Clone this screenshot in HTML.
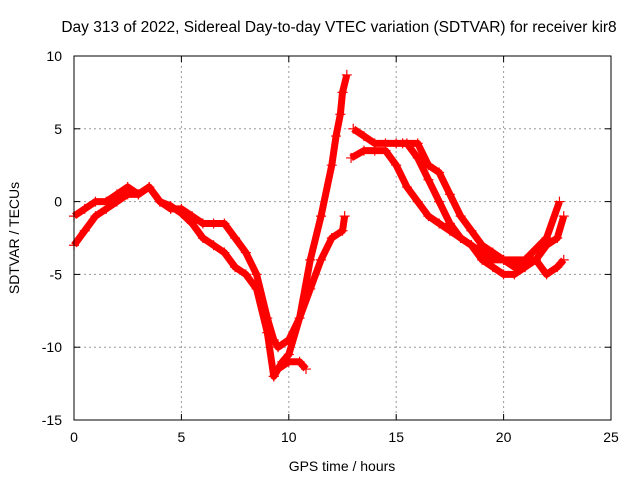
<!DOCTYPE html>
<html><head><meta charset="utf-8"><style>
body{margin:0;background:#fff}
svg text{font-family:"Liberation Sans",sans-serif;font-size:14px;fill:#000}
</style></head><body>
<svg width="640" height="480" id="c">
<rect x="0" y="0" width="640" height="480" fill="#fff"/>
<text x="339" y="32" text-anchor="middle" style="font-size:15.5px">Day 313 of 2022, Sidereal Day-to-day VTEC variation (SDTVAR) for receiver kir8</text>
<text x="342" y="471" text-anchor="middle">GPS time / hours</text>
<text x="19" y="238" text-anchor="middle" transform="rotate(-90 19 238)">SDTVAR / TECUs</text>
<g id="grid"></g><g id="data"></g>
<rect x="74" y="56" width="537" height="364" fill="none" stroke="#000"/>
</svg>
<script>
const xTicks=[0,5,10,15,20,25];
const yTicks=[10,5,0,-5,-10,-15];
const trackAx=[0,0.5,1,1.5,2,2.5,3,3.5,4,4.5,5,5.5,6,6.5,7,7.5,8,8.5,9,9.3,9.5,10,10.5,11,11.5,12,12.5,12.6];
const trackAy=[-1,-0.5,0,0,0.5,1,0.5,1,0,-0.5,-0.5,-1,-1.5,-1.5,-1.5,-2.5,-3.5,-5,-8,-9.5,-10,-9.5,-8,-6,-4,-2.5,-2,-1];
const trackBx=[9.3,9.7,10,10.5,11,11.5,12,12.2,12.4,12.5,12.7];
const trackBy=[-12,-11,-10.5,-8,-4,-1,2.5,4.5,6,7.5,8.7];
const trackCx=[0,0.5,1,1.5,2,2.5,3,3.5,4,4.5,5,5.5,6,6.5,7,7.5,8,8.5,9,9.3,9.5,10,10.5,10.8];
const trackCy=[-3,-2,-1,-0.5,0,0.5,0.5,1,0,-0.3,-0.8,-1.5,-2.5,-3,-3.5,-4.5,-5,-6,-9,-12,-11.5,-11,-11,-11.5];
const trackDx=[13,13.5,14,14.5,15,15.5,16,16.5,17,17.5,18,18.5,19,19.5,20,20.5,21,21.5,22,22.5,22.8];
const trackDy=[5,4.5,4,4,4,4,3,1.5,0,-1.5,-2.5,-3,-3.5,-4,-4,-4.5,-4,-4,-3,-2.5,-1];
const trackEx=[12.9,13.5,14,14.5,15,15.5,16,16.5,17,17.5,18,18.5,19,19.5,20,20.5,21,21.5,22,22.5,22.8];
const trackEy=[3,3.5,3.5,3.5,2.5,1,0,-1,-1.5,-2,-2.5,-3,-4,-4.5,-5,-5,-4.5,-4,-5,-4.5,-4];
const trackFx=[15.3,16,16.5,17,17.5,18,18.5,19,19.5,20,21,22,22.6];
const trackFy=[4,4,2.5,2,0.5,-1,-2,-3,-3.5,-4,-4,-2.5,0];
const X=v=>74+v*537/25, Y=v=>56+(10-v)*364/25;
const NS='http://www.w3.org/2000/svg';
const g=document.getElementById('grid'), d=document.getElementById('data'), svg=document.getElementById('c');
function mk(t,a,p){const e=document.createElementNS(NS,t);for(const k in a)e.setAttribute(k,a[k]);p.appendChild(e);return e;}
xTicks.forEach(t=>{
 const x=X(t);
 if(t>0&&t<25){const l=mk('line',{x1:x,x2:x,y1:56,y2:420,stroke:'#999','stroke-dasharray':'2,3'},g);
 
 }
 mk('line',{x1:x,x2:x,y1:420,y2:414,stroke:'#000'},g);mk('line',{x1:x,x2:x,y1:56,y2:62,stroke:'#000'},g);
 const tx=mk('text',{x:x,y:442,'text-anchor':'middle'},svg);tx.textContent=t;
 
 
});
yTicks.forEach(t=>{
 const y=Y(t);
 if(t<10&&t>-15){const l=mk('line',{x1:74,x2:611,y1:y,y2:y,stroke:'#999','stroke-dasharray':'2,3'},g);
 
 }
 mk('line',{x1:74,x2:80,y1:y,y2:y,stroke:'#000'},g);mk('line',{x1:611,x2:605,y1:y,y2:y,stroke:'#000'},g);
 const tx=mk('text',{x:62,y:y+5,'text-anchor':'end'},svg);tx.textContent=t;
 
 
});
[[trackAx,trackAy],[trackBx,trackBy],[trackCx,trackCy],[trackDx,trackDy],[trackEx,trackEy],[trackFx,trackFy]].forEach(([xs,ys],i)=>{
 const pl=mk('polyline',{points:xs.map((x,j)=>X(x)+','+Y(ys[j])).join(' '),fill:'none',stroke:'#f00','stroke-width':7,'stroke-linejoin':'round'},d);
 
 
 xs.forEach((x,j)=>{
  const px=X(x),py=Y(ys[j]);
  const p=mk('path',{d:`M${px-5},${py}h10M${px},${py-5}v10`,stroke:'#f00','stroke-width':1.2},d);
  
  
 });
});
</script>
</body></html>
